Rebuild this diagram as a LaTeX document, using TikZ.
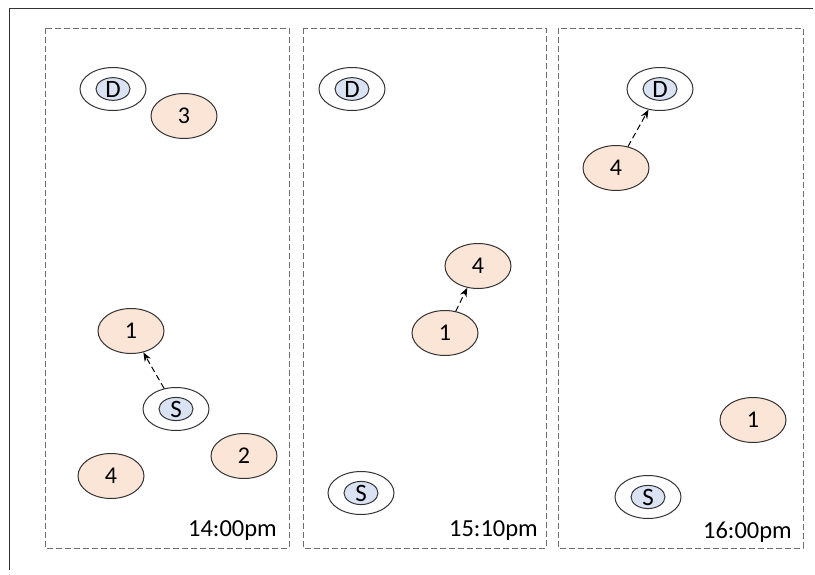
\documentclass[tikz,border=0pt]{standalone}
\usepackage{fontspec}
\setmainfont{Carlito}
\usetikzlibrary{shapes.geometric,arrows.meta}
\definecolor{relayfill}{HTML}{FBE5D6}
\definecolor{endfill}{HTML}{DAE3F3}
\definecolor{edgegray}{HTML}{333333}
\definecolor{boxgray}{HTML}{6E6E6E}
\tikzset{
  relay/.style={ellipse, draw=edgegray, line width=1pt, fill=relayfill,
    minimum width=66pt, minimum height=45pt, inner sep=0pt, font=\fontsize{24}{26}\selectfont},
  endouter/.style={ellipse, draw=edgegray, line width=1pt, fill=white,
    minimum width=66pt, minimum height=43pt, inner sep=0pt},
  endinner/.style={ellipse, draw=edgegray, line width=1pt, fill=endfill,
    minimum width=34pt, minimum height=21pt, inner sep=0pt, font=\fontsize{25}{26}\selectfont},
  framebox/.style={draw=boxgray, line width=1pt, dash pattern=on 6pt off 3pt},
  move/.style={draw=black, line width=1pt, dash pattern=on 6pt off 3.5pt, -{Stealth[length=9pt,width=7pt]}},
  timelabel/.style={anchor=base east, inner sep=0pt, font=\fontsize{24.5}{26}\selectfont}
}
\begin{document}
\begin{tikzpicture}[x=1pt,y=-1pt]
\useasboundingbox (0,0) rectangle (815,574);
% outer frame lines
\draw[edgegray, line width=0.9pt] (813,8) -- (9,8) -- (9,570);
% dashed panels
\draw[framebox] (45,28) rectangle (289,548);
\draw[framebox] (303,28) rectangle (546,548);
\draw[framebox] (558,28) rectangle (803,548);

% panel 1
\node[endouter] (D1) at (113,89) {};
\node[endinner] (D1i) at (D1.center) {D};
\node[relay] (a3) at (184,116) {3};
\node[relay] (a1) at (131,331) {1};
\node[endouter] (S1) at (176,409) {};
\node[endinner] (S1i) at (S1.center) {S};
\node[relay] (a2) at (244,456) {2};
\node[relay] (a4) at (111,476) {4};
\node[timelabel] (t1) at (277,536) {14:00pm};
\draw[move] (S1) -- (a1);

% panel 2
\node[endouter] (D2) at (352,89) {};
\node[endinner] (D2i) at (D2.center) {D};
\node[relay] (b4) at (478,266) {4};
\node[relay] (b1) at (445,333) {1};
\node[endouter] (S2) at (361,493) {};
\node[endinner] (S2i) at (S2.center) {S};
\node[timelabel] (t2) at (538,536) {15:10pm};
\draw[move] (b1) -- (b4);

% panel 3
\node[endouter] (D3) at (660,89) {};
\node[endinner] (D3i) at (D3.center) {D};
\node[relay] (c4) at (616,168) {4};
\node[relay] (c1) at (753,420) {1};
\node[endouter] (S3) at (648,497) {};
\node[endinner] (S3i) at (S3.center) {S};
\node[timelabel] (t3) at (792,538) {16:00pm};
\draw[move] (c4) -- (D3);
\end{tikzpicture}
\end{document}
